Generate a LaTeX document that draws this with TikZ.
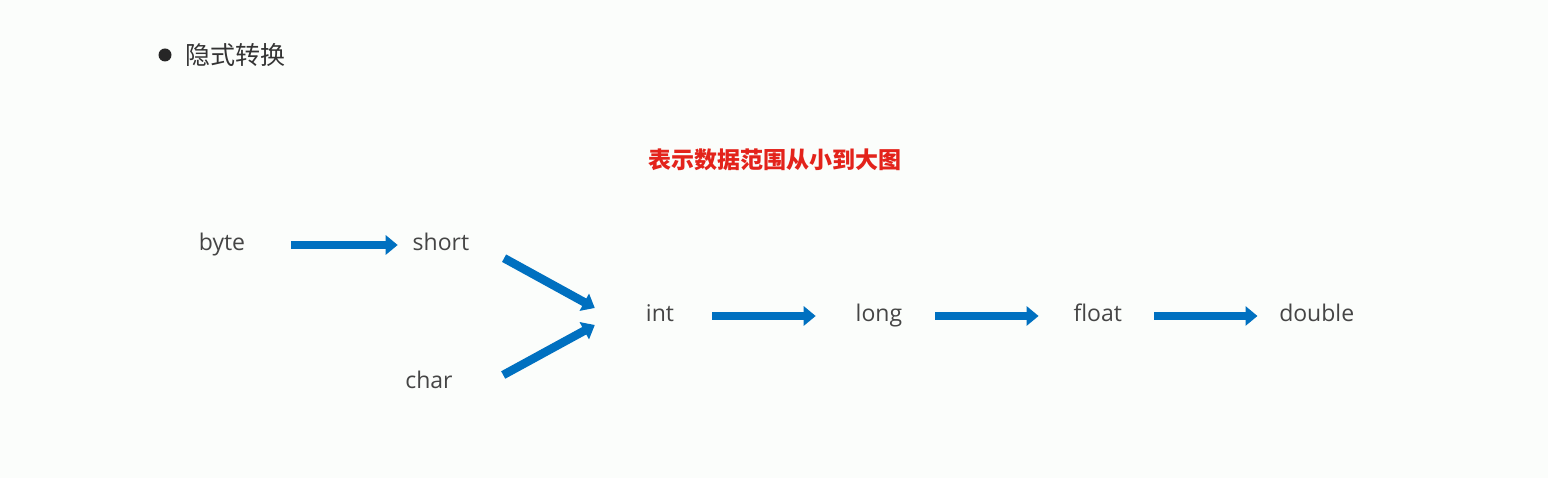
\documentclass[tikz,border=0pt]{standalone}
\usepackage{fontspec}
\setmainfont{Open Sans}
\newfontfamily\cjk{Noto Sans CJK SC}
\usetikzlibrary{arrows.meta,positioning}
\definecolor{ArrBlue}{HTML}{0070C0}
\definecolor{TxtGray}{HTML}{454545}
\definecolor{TitleRed}{HTML}{E3231B}
\definecolor{PageBg}{HTML}{FBFDFB}

\begin{document}
\begin{tikzpicture}[
  x=1pt,y=1pt,
  node distance=0pt and 108.5pt,
  typ/.style={text=TxtGray,minimum width=110pt,minimum height=30pt,inner sep=0pt,text height=17pt,text depth=5pt,font=\fontsize{23}{27}\selectfont},
  arrow/.style={-{Triangle[length=12pt,width=19pt]},line width=8.5pt,draw=ArrBlue,shorten >=4pt,shorten <=1pt}
]
\fill[PageBg] (0,0) rectangle (1548,478);
\useasboundingbox (0,0) rectangle (1548,478);
\node[circle,fill=black!85,minimum size=13pt,inner sep=0pt] (dot) at (165,423) {};
\node[right=14pt of dot,inner sep=0pt,text=black!80,font=\cjk\fontsize{25}{30}\selectfont] (head) {隐式转换};
\node[font=\cjk\bfseries\fontsize{23}{28}\selectfont,text=TitleRed] (title) at (775,318) {表示数据范围从小到大图};
% types, small to large
\node[typ] (byte) at (222,233) {byte};
\node[typ,right=of byte] (short) {short};
\node[typ] (char) at (429,95) {char};
\node[typ] (int) at (660,162) {int};
\node[typ,right=of int] (long) {long};
\node[typ,right=of long] (float) {float};
\node[typ,right=of float] (double) {double};
\draw[arrow,shorten <=14pt,shorten >=-12pt] (byte) -- (short);
\draw[arrow,shorten >=0pt,shorten <=0pt] ([shift={(8,2)}]short.south east) -- ([shift={(-10,8)}]int.west);
\draw[arrow,shorten >=0pt,shorten <=0pt] ([shift={(19,8)}]char.east) -- ([shift={(-10,-9)}]int.west);
\draw[arrow,shorten <=-3pt,shorten >=8pt] (int) -- (long);
\draw[arrow] (long) -- (float);
\draw[arrow] (float) -- (double);
\end{tikzpicture}
\end{document}
